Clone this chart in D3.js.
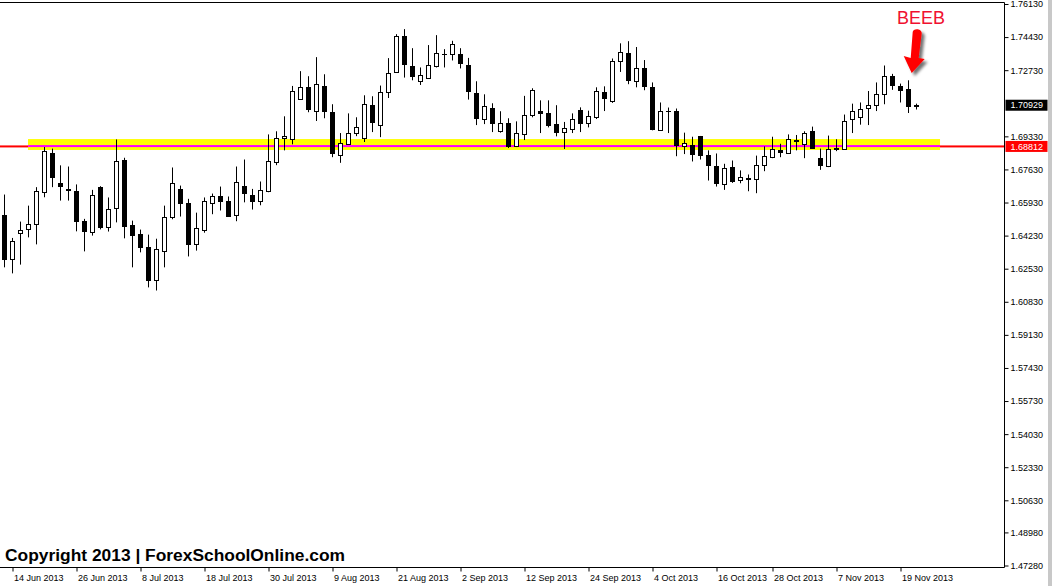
<!DOCTYPE html>
<html><head><meta charset="utf-8">
<script src="https://cdn.jsdelivr.net/npm/d3@7"></script>
<style>html,body{margin:0;padding:0;background:#fff;overflow:hidden}svg{display:block}</style>
</head><body>
<svg id="chart" width="1052" height="586"></svg>
<script>
// ---- data (GBPUSD daily, 13 Jun 2013 - 21 Nov 2013) ----
const opens  = [1.6531,1.6301,1.6437,1.6455,1.6481,1.6646,1.6849,1.6691,1.6665,1.6650,1.6500,1.6440,1.6675,1.6466,1.6564,1.6814,1.6480,1.6433,1.6366,1.6193,
1.6342,1.6517,1.6665,1.6593,1.6378,1.6450,1.6591,1.6629,1.6603,1.6530,1.6680,1.6634,1.6602,1.6651,1.6800,1.6926,1.6919,1.7127,1.7189,1.7065,
1.7194,1.7060,1.6839,1.6893,1.6952,1.6926,1.7096,1.6993,1.7163,1.7264,1.7447,1.7297,1.7215,1.7235,1.7297,1.7358,1.7354,1.7354,1.7302,1.7155,
1.7022,1.7077,1.6960,1.7000,1.6883,1.6945,1.7043,1.7062,1.7055,1.6995,1.6955,1.6971,1.7067,1.7001,1.7032,1.7160,1.7115,1.7321,1.7361,1.7218,
1.7283,1.7189,1.6967,1.7065,1.7062,1.6885,1.6887,1.6933,1.6835,1.6783,1.6689,1.6773,1.6710,1.6718,1.6715,1.6787,1.6828,1.6861,1.6849,1.6916,
1.6895,1.6959,1.6823,1.6780,1.6875,1.6870,1.7024,1.7034,1.7081,1.7096,1.7153,1.7242,1.7190,1.7175,1.7090];
const highs  = [1.6634,1.6411,1.6495,1.6577,1.6672,1.6878,1.6870,1.6784,1.6778,1.6686,1.6509,1.6658,1.6677,1.6619,1.6917,1.6823,1.6500,1.6454,1.6428,1.6407,
1.6577,1.6773,1.6680,1.6612,1.6541,1.6619,1.6639,1.6675,1.6624,1.6778,1.6814,1.6663,1.6701,1.6943,1.6959,1.7036,1.7192,1.7268,1.7242,1.7340,
1.7252,1.7098,1.6950,1.7051,1.7031,1.7144,1.7139,1.7194,1.7335,1.7458,1.7484,1.7386,1.7287,1.7402,1.7453,1.7381,1.7424,1.7386,1.7336,1.7216,
1.7149,1.7103,1.7062,1.7026,1.7010,1.7141,1.7180,1.7118,1.7118,1.7093,1.7007,1.7051,1.7082,1.7065,1.7185,1.7190,1.7333,1.7411,1.7422,1.7392,
1.7325,1.7210,1.7107,1.7081,1.7076,1.6952,1.6931,1.6935,1.6861,1.6845,1.6792,1.6809,1.6758,1.6737,1.6834,1.6881,1.6931,1.6895,1.6943,1.6940,
1.6959,1.6983,1.6870,1.6937,1.6918,1.7045,1.7101,1.7107,1.7166,1.7210,1.7297,1.7254,1.7204,1.7221,1.7101];
const lows   = [1.6260,1.6229,1.6274,1.6414,1.6378,1.6620,1.6672,1.6603,1.6603,1.6445,1.6342,1.6423,1.6455,1.6444,1.6491,1.6409,1.6260,1.6337,1.6157,1.6141,
1.6260,1.6507,1.6521,1.6316,1.6346,1.6438,1.6533,1.6552,1.6522,1.6497,1.6594,1.6557,1.6579,1.6646,1.6785,1.6861,1.6892,1.7125,1.7057,1.7012,
1.7026,1.6826,1.6797,1.6890,1.6934,1.6904,1.6955,1.6929,1.7130,1.7259,1.7235,1.7221,1.7197,1.7230,1.7287,1.7287,1.7323,1.7282,1.7122,1.6991,
1.6996,1.6955,1.6952,1.6873,1.6878,1.6914,1.7031,1.6950,1.6979,1.6933,1.6868,1.6950,1.6955,1.6979,1.7022,1.7063,1.7105,1.7264,1.7201,1.7185,
1.7170,1.6964,1.6965,1.6950,1.6831,1.6842,1.6804,1.6814,1.6706,1.6675,1.6658,1.6694,1.6692,1.6651,1.6641,1.6754,1.6821,1.6826,1.6848,1.6861,
1.6821,1.6872,1.6761,1.6775,1.6857,1.6866,1.6950,1.6993,1.6991,1.7063,1.7098,1.7172,1.7107,1.7053,1.7071];
const closes = [1.6301,1.6397,1.6452,1.6483,1.6653,1.6859,1.6723,1.6677,1.6656,1.6497,1.6445,1.6634,1.6466,1.6560,1.6808,1.6471,1.6424,1.6363,1.6193,1.6356,
1.6521,1.6691,1.6589,1.6378,1.6463,1.6603,1.6627,1.6600,1.6522,1.6700,1.6641,1.6600,1.6658,1.6808,1.6926,1.6937,1.7168,1.7189,1.7074,1.7204,
1.7063,1.6847,1.6900,1.6952,1.6983,1.7101,1.7007,1.7163,1.7261,1.7447,1.7305,1.7244,1.7246,1.7302,1.7359,1.7356,1.7405,1.7308,1.7168,1.7027,
1.7087,1.7001,1.7003,1.6883,1.6948,1.7041,1.7170,1.7053,1.6991,1.6955,1.6978,1.7024,1.7001,1.7036,1.7165,1.7130,1.7318,1.7364,1.7223,1.7283,
1.7192,1.6971,1.7065,1.7062,1.6890,1.6897,1.6842,1.6835,1.6787,1.6692,1.6768,1.6703,1.6725,1.6713,1.6787,1.6834,1.6870,1.6854,1.6921,1.6909,
1.6952,1.6873,1.6787,1.6870,1.6868,1.7014,1.7065,1.7074,1.7093,1.7153,1.7242,1.7199,1.7172,1.7091,1.70929];

const priceTicks = [1.76130,1.74430,1.72730,1.69330,1.67630,1.65930,1.64230,1.62530,1.60830,1.59130,1.57430,1.55730,1.54030,1.52330,1.50630,1.48980,1.47280];
const dateLabels = ["14 Jun 2013","26 Jun 2013","8 Jul 2013","18 Jul 2013","30 Jul 2013","9 Aug 2013","21 Aug 2013","2 Sep 2013","12 Sep 2013","24 Sep 2013","4 Oct 2013","16 Oct 2013","28 Oct 2013","7 Nov 2013","19 Nov 2013"];
const dateBars   = [1,9,17,25,33,41,49,57,65,73,81,89,96,104,112];

const bidPrice = 1.70929;
const levelPrice = 1.68812;
const zoneTop = 1.6919, zoneBottom = 1.6863, zoneLine = 1.6883;
const zoneBars = [2.94, 116.94];
const priceDomain = [1.47280, 1.76130];
const annotation = "BEEB";
const copyright = "Copyright 2013 | ForexSchoolOnline.com";

// ---- layout ----
const svg = d3.select("#chart");
const plotRight = 1004.5, plotBottom = 567.5, plotTop = 2.5;
const x = d3.scaleLinear().domain([0, opens.length - 1]).range([4.5, 4.5 + 8 * (opens.length - 1)]);
const y = d3.scaleLinear().domain(priceDomain).range([565.5, 4]);
const font = "'Liberation Sans', Arial, sans-serif";

// scrollbar strip at right
svg.append("rect").attr("x", 1048).attr("y", 0).attr("width", 4).attr("height", 586).attr("fill", "#c8c8c8");

const plot = svg.append("g");
// level line (red), zone (yellow), zone line (magenta)
plot.append("rect").attr("x", 0).attr("width", plotRight).attr("y", y(levelPrice) - 1).attr("height", 2).attr("fill", "#ff0000");
plot.append("rect").attr("x", x(zoneBars[0])).attr("width", x(zoneBars[1]) - x(zoneBars[0]))
  .attr("y", y(zoneTop)).attr("height", y(zoneBottom) - y(zoneTop)).attr("fill", "#ffff00");
plot.append("rect").attr("x", x(zoneBars[0])).attr("width", x(zoneBars[1]) - x(zoneBars[0]))
  .attr("y", y(zoneLine) - 1).attr("height", 2).attr("fill", "#ff00ff");

// candles
const candles = d3.range(opens.length).map(i => ({i, o: opens[i], h: highs[i], l: lows[i], c: closes[i]}));
const cg = plot.append("g").selectAll("g").data(candles).join("g");
cg.append("rect").attr("x", d => x(d.i) - 0.5).attr("width", 1)
  .attr("y", d => y(d.h)).attr("height", d => Math.max(1, y(d.l) - y(d.h))).attr("fill", "#000");
cg.each(function(d) {
  const g = d3.select(this);
  const top = y(Math.max(d.o, d.c)), bot = y(Math.min(d.o, d.c));
  if (d.c >= d.o) {
    g.append("rect").attr("x", x(d.i) - 2).attr("width", 4)
      .attr("y", Math.round(top) + 0.5).attr("height", Math.max(1, Math.round(bot) - Math.round(top)))
      .attr("fill", "#fff").attr("stroke", "#000").attr("stroke-width", 1);
  } else {
    g.append("rect").attr("x", x(d.i) - 2.5).attr("width", 5)
      .attr("y", Math.round(top)).attr("height", Math.max(1, Math.round(bot) - Math.round(top) + 1))
      .attr("fill", "#000");
  }
});

// frame
svg.append("line").attr("x1", 0).attr("x2", plotRight).attr("y1", plotTop).attr("y2", plotTop).attr("stroke", "#000");
svg.append("line").attr("x1", 0).attr("x2", plotRight).attr("y1", plotBottom).attr("y2", plotBottom).attr("stroke", "#000");

// price axis
const yAxis = d3.axisRight(y).tickValues(priceTicks).tickSize(4).tickPadding(2).tickFormat(d3.format(".5f"));
const ya = svg.append("g").attr("transform", `translate(${plotRight},0)`).call(yAxis);
ya.select(".domain").attr("d", `M0,${plotTop}V${plotBottom}`).attr("stroke", "#000");
ya.selectAll(".tick line").attr("stroke", "#000");
ya.selectAll(".tick text").attr("font-family", font).attr("font-size", 9).attr("fill", "#000");

// date axis
const xAxis = d3.axisBottom(x).tickValues(dateBars).tickSize(4).tickFormat((d, k) => dateLabels[k]);
const xa = svg.append("g").attr("transform", `translate(0,${plotBottom})`).call(xAxis);
xa.select(".domain").remove();
xa.selectAll(".tick line").attr("stroke", "#000");
xa.selectAll(".tick text").attr("font-family", font).attr("font-size", 9).attr("fill", "#000")
  .attr("text-anchor", "start").attr("dx", 1).attr("y", 5).attr("dy", "0.9em");

// current price labels
function priceTag(p, bg) {
  const yy = y(p);
  svg.append("rect").attr("x", plotRight + 1).attr("y", yy - 5.5).attr("width", 42).attr("height", 11).attr("fill", bg);
  svg.append("text").attr("x", plotRight + 6).attr("y", yy).attr("dy", "0.35em")
    .attr("font-family", font).attr("font-size", 9).attr("fill", "#fff").text(d3.format(".5f")(p));
}
priceTag(bidPrice, "#000");
priceTag(levelPrice, "#ff0000");

// annotation
const defs = svg.append("defs");
const f = defs.append("filter").attr("id", "sh").attr("x", "-50%").attr("y", "-50%").attr("width", "200%").attr("height", "200%");
f.append("feDropShadow").attr("dx", 3).attr("dy", 3).attr("stdDeviation", 1.8).attr("flood-color", "#000").attr("flood-opacity", 0.55);
const ax = x(113.4), ay = y(1.7258);
svg.append("path").attr("filter", "url(#sh)").attr("fill", "#ff0000")
  .attr("transform", `translate(${ax},${ay})`)
  .attr("d", "M1,-41 C1,-45 10,-45 10,-40 L7,-15 L13,-14 L0,0 L-8,-17 L-1,-15 Z");
svg.append("text").attr("x", 921).attr("y", 24).attr("text-anchor", "middle")
  .attr("font-family", font).attr("font-size", 19).attr("fill", "#f01030")
  .attr("textLength", 48).attr("lengthAdjust", "spacingAndGlyphs").text(annotation);

svg.append("text").attr("x", 5).attr("y", 561).attr("font-family", font).attr("font-weight", "bold")
  .attr("font-size", 16).attr("fill", "#000").attr("textLength", 340).attr("lengthAdjust", "spacingAndGlyphs").text(copyright);
</script>
</body></html>
